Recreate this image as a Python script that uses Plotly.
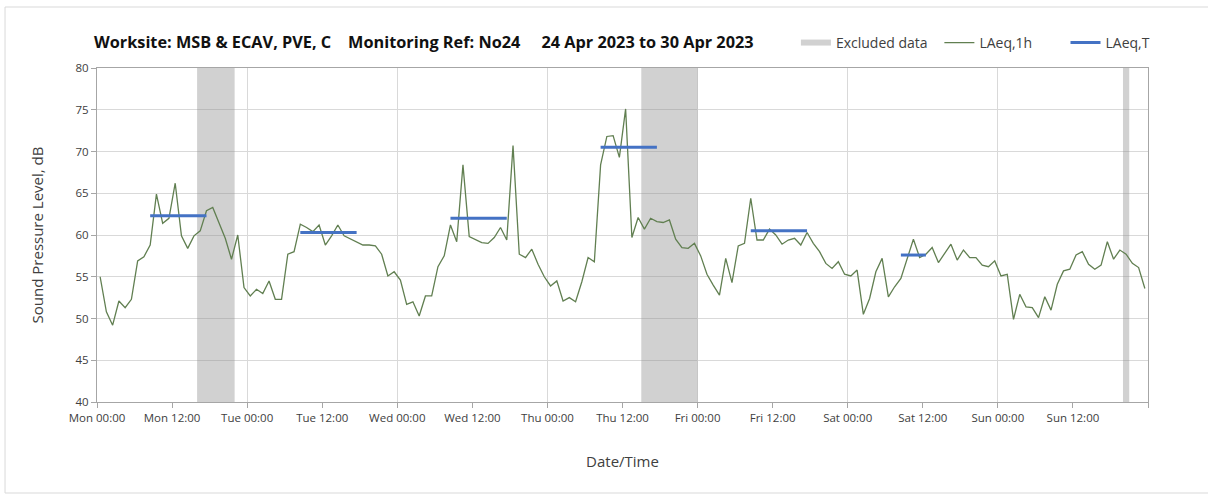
import pandas as pd
import plotly.graph_objects as go

# ---------------- data ----------------
hour_start = "2023-04-24 00:30"
laeq_1h = [
    # Mon
    55.0, 50.8, 49.2, 52.1, 51.3, 52.3, 56.9, 57.4, 58.8, 64.9, 61.4, 62.0,
    66.2, 59.9, 58.4, 59.9, 60.5, 62.9, 63.3, 61.5, 59.6, 57.1, 60.0, 53.7,
    # Tue
    52.7, 53.5, 53.0, 54.5, 52.3, 52.3, 57.7, 58.0, 61.3, 60.9, 60.4, 61.2,
    58.8, 59.9, 61.2, 59.9, 59.5, 59.1, 58.8, 58.8, 58.7, 57.7, 55.1, 55.6,
    # Wed
    54.6, 51.7, 52.0, 50.3, 52.7, 52.7, 56.2, 57.5, 61.2, 59.2, 68.4, 59.8,
    59.4, 59.1, 59.0, 59.7, 60.9, 59.4, 70.7, 57.7, 57.3, 58.3, 56.5, 55.0,
    # Thu
    53.9, 54.5, 52.1, 52.5, 52.0, 54.4, 57.3, 56.8, 68.4, 71.8, 71.9, 69.3,
    75.1, 59.7, 62.1, 60.7, 62.0, 61.6, 61.5, 61.8, 59.5, 58.5, 58.4, 59.0,
    # Fri
    57.5, 55.3, 54.0, 52.8, 57.2, 54.3, 58.7, 59.0, 64.4, 59.4, 59.4, 60.7,
    60.0, 58.9, 59.4, 59.6, 58.8, 60.3, 59.0, 58.0, 56.6, 56.0, 56.8, 55.3,
    # Sat
    55.1, 55.8, 50.5, 52.4, 55.6, 57.2, 52.6, 53.8, 54.8, 57.2, 59.5, 57.3,
    57.7, 58.5, 56.7, 57.8, 58.9, 57.0, 58.2, 57.3, 57.3, 56.4, 56.2, 56.9,
    # Sun
    55.1, 55.3, 49.9, 52.9, 51.4, 51.3, 50.1, 52.6, 51.0, 54.1, 55.7, 55.9,
    57.6, 58.0, 56.5, 55.9, 56.4, 59.2, 57.1, 58.2, 57.7, 56.6, 56.1, 53.6,
]

laeq_t_start = ["2023-04-24 08:30", "2023-04-25 08:30", "2023-04-26 08:30",
                "2023-04-27 08:30", "2023-04-28 08:30", "2023-04-29 08:30"]
laeq_t_end = ["2023-04-24 17:30", "2023-04-25 17:30", "2023-04-26 17:30",
              "2023-04-27 17:30", "2023-04-28 17:30", "2023-04-29 12:30"]
laeq_t_level = [62.3, 60.3, 62.0, 70.5, 60.5, 57.6]

excl_start = ["2023-04-24 16:00", "2023-04-27 15:00", "2023-04-30 20:00"]
excl_end = ["2023-04-24 22:00", "2023-04-28 00:00", "2023-04-30 21:00"]

x_range = ["2023-04-24 00:00", "2023-05-01 00:00"]
y_range = [40, 80]

title_text = ("Worksite: MSB & ECAV, PVE, C\u00a0\u00a0\u00a0\u00a0"
              "Monitoring Ref: No24\u00a0\u00a0\u00a0\u00a0\u00a0"
              "24 Apr 2023 to 30 Apr 2023")

# ---------------- figure ----------------
times = pd.date_range(hour_start, periods=len(laeq_1h), freq="h")
tick_times = pd.date_range(x_range[0], x_range[1], freq="12h")
tick_text = [t.strftime("%a %H:%M") for t in tick_times[:-1]] + [""]

ex_x, ex_y = [], []
for s, e in zip(excl_start, excl_end):
    ex_x += [s, e, e, s, s, None]
    ex_y += [y_range[0], y_range[0], y_range[1], y_range[1], y_range[0], None]

t_x, t_y = [], []
for s, e, v in zip(laeq_t_start, laeq_t_end, laeq_t_level):
    t_x += [s, e, None]
    t_y += [v, v, None]

fig = go.Figure()
fig.add_trace(go.Scatter(
    x=ex_x, y=ex_y, fill="toself", mode="none",
    fillcolor="rgba(140,140,140,0.40)", name="Excluded data",
    legend="legend", hoverinfo="skip"))
fig.add_trace(go.Scatter(
    x=times, y=laeq_1h, mode="lines", name="LAeq,1h",
    line=dict(color="#617f51", width=1.3), legend="legend2"))
fig.add_trace(go.Scatter(
    x=t_x, y=t_y, mode="lines", name="LAeq,T",
    line=dict(color="#4472c4", width=3), legend="legend3"))
# dummy trace for the daily gridline axis
fig.add_trace(go.Scatter(x=[x_range[0]], y=[None], xaxis="x2",
                         showlegend=False, hoverinfo="skip"))

font_fam = "Open Sans, DejaVu Sans, sans-serif"
txt_col = "#404040"
grid_col = "#d9d9d9"
axis_col = "#a6a6a6"

legend_common = dict(orientation="h", yref="paper", y=1.075, yanchor="middle",
                     xanchor="left", bgcolor="rgba(0,0,0,0)",
                     font=dict(family=font_fam, size=14, color=txt_col))

fig.update_layout(
    width=1208, height=496,
    margin=dict(l=97, r=60, t=68, b=94, autoexpand=False),
    paper_bgcolor="white", plot_bgcolor="white",
    font=dict(family=font_fam, color=txt_col),
    title=dict(text=title_text, x=94 / 1208, xref="container", xanchor="left",
               y=1 - 42 / 496, yref="container", yanchor="middle",
               font=dict(family=font_fam, size=16.3, color="#111111",
                         weight="bold")),
    legend=dict(x=0.665, **legend_common),
    legend2=dict(x=0.8015, **legend_common),
    legend3=dict(x=0.9215, **legend_common),
    xaxis=dict(
        type="date", range=x_range, tickmode="array",
        tickvals=tick_times, ticktext=tick_text,
        showgrid=False, ticks="outside", ticklen=5, automargin=False,
        tickcolor=axis_col, showline=True, linecolor=axis_col, mirror=True,
        tickfont=dict(family=font_fam, size=11.5, color=txt_col),
        title=dict(text="Date/Time", standoff=32,
                   font=dict(family=font_fam, size=15, color=txt_col)),
    ),
    xaxis2=dict(
        type="date", overlaying="x", matches="x", anchor="y",
        tick0=x_range[0], dtick=24 * 3600 * 1000, automargin=False,
        showgrid=True, gridcolor=grid_col, gridwidth=1,
        showticklabels=False, ticks="", showline=False, zeroline=False,
    ),
    yaxis=dict(
        range=y_range, dtick=5, showgrid=True, gridcolor=grid_col,
        ticks="outside", ticklen=5, tickcolor=axis_col, showline=True,
        linecolor=axis_col, mirror=True, zeroline=False, automargin=False,
        tickfont=dict(family=font_fam, size=11.5, color=txt_col),
        title=dict(text="Sound Pressure Level, dB", standoff=28,
                   font=dict(family=font_fam, size=15, color=txt_col)),
    ),
    shapes=[dict(type="rect", xref="paper", yref="paper",
                 x0=-0.0875, x1=1.12, y0=-0.2725, y1=1.1826,
                 line=dict(color="#d9d9d9", width=1),
                 fillcolor="rgba(0,0,0,0)", layer="below")],
)

fig.write_html("out.html", config={"displayModeBar": False},
               post_script="document.body.style.margin='0';")
